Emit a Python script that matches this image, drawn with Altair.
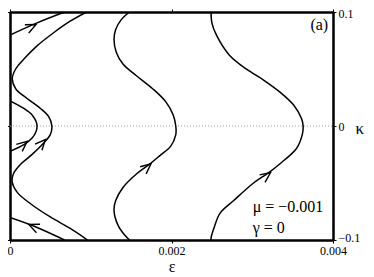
import altair as alt
import pandas as pd

FONT = "'Liberation Serif', 'Times New Roman', 'DejaVu Serif', serif"

# ---- trajectories (epsilon, kappa) ----
A_eps = [0.00249, 0.00250, 0.00256, 0.00272, 0.00293, 0.00314, 0.00334, 0.00351, 0.00361, 0.00363,
         0.00362, 0.00355, 0.00334, 0.00320, 0.00302, 0.00277, 0.00260, 0.00253, 0.00249, 0.00249]
A_kap = [0.1, 0.0905, 0.0792, 0.0619, 0.0498, 0.0403, 0.0299, 0.0186, 0.0065, 0.0,
         -0.0074, -0.0195, -0.0333, -0.0411, -0.0498, -0.0654, -0.0766, -0.0887, -0.0983, -0.1]

B_eps = [0.001481, 0.001378, 0.001309, 0.001288, 0.001317, 0.001399, 0.001562, 0.001767, 0.001930, 0.002021, 0.002053,
         0.002053, 0.001991, 0.001849, 0.001726, 0.001562, 0.001399, 0.001309, 0.001288, 0.001337, 0.001420, 0.001481]
B_kap = [0.1, 0.0933, 0.0847, 0.0760, 0.0645, 0.0544, 0.0443, 0.0327, 0.0212, 0.0097, 0.0,
         -0.0076, -0.0177, -0.0264, -0.0336, -0.0423, -0.0539, -0.0654, -0.0740, -0.0870, -0.0957, -0.1]

C_eps = [0.000948, 0.000745, 0.000540, 0.000335, 0.000172, 0.000070, 0.000028, 0.000070, 0.000212, 0.000377, 0.000479, 0.000519,
         0.000499, 0.000417, 0.000274, 0.000131, 0.000040, 0.000028, 0.000090, 0.000254, 0.000499, 0.000745, 0.000960]
C_kap = [0.1, 0.0919, 0.0818, 0.0703, 0.0587, 0.0500, 0.0414, 0.0327, 0.0241, 0.0154, 0.0082, 0.0,
         -0.0076, -0.0149, -0.0249, -0.0336, -0.0423, -0.0495, -0.0582, -0.0682, -0.0798, -0.0899, -0.1]

D_eps = [0.0, 0.000172, 0.000274, 0.000323, 0.000335, 0.000323, 0.000274, 0.000172, 0.0]
D_kap = [0.0221, 0.0154, 0.0097, 0.0039, 0.0, -0.0048, -0.0106, -0.0163, -0.0221]

E_eps = [0.0, 0.000335, 0.000675]
E_kap = [0.0798, 0.0905, 0.1]

F_eps = [0.000675, 0.000335, 0.0]
F_kap = [-0.1, -0.089, -0.0803]

curves = {"A": (A_eps, A_kap), "B": (B_eps, B_kap), "C": (C_eps, C_kap),
          "D": (D_eps, D_kap), "E": (E_eps, E_kap), "F": (F_eps, F_kap)}

# ---- arrow heads (position on curve, direction in degrees) ----
arrow_eps = [0.003227, 0.001746, 0.000438, 0.000212, 0.000323, 0.000233]
arrow_kap = [-0.0409, -0.0331, -0.0119, -0.0134, 0.0890, -0.0864]
arrow_ang = [324, 320, 312, 320, 335, 203]

# ---- axes ----
x_ticks = [0, 0.002, 0.004]
y_ticks = [-0.1, 0, 0.1]
x_domain = [0, 0.004]
y_domain = [-0.1, 0.1]

# ---- annotations ----
ann_right_text = ["(a)"]
ann_right_eps = [0.00394]
ann_right_kap = [0.0887]
ann_left_text = ["μ = −0.001", "γ = 0"]
ann_left_eps = [0.003006, 0.003006]
ann_left_kap = [-0.0714, -0.0896]

rows = []
for name, (es, ks) in curves.items():
    for i, (e, k) in enumerate(zip(es, ks)):
        rows.append({"curve": name, "idx": i, "eps": e, "kap": k})
df = pd.DataFrame(rows)

arrows = pd.DataFrame({"eps": arrow_eps, "kap": arrow_kap, "ang": arrow_ang})
zero_line = pd.DataFrame({"e1": [x_domain[0]], "e2": [x_domain[1]], "k": [0.0]})
ann_r = pd.DataFrame({"t": ann_right_text, "eps": ann_right_eps, "kap": ann_right_kap})
ann_l = pd.DataFrame({"t": ann_left_text, "eps": ann_left_eps, "kap": ann_left_kap})

xs = alt.Scale(domain=x_domain, nice=False, zero=False)
ys = alt.Scale(domain=y_domain, nice=False, zero=False)

common_axis = dict(domainColor="black", domainWidth=2.5, tickColor="black", tickWidth=1,
                   tickSize=3, grid=False, labelFont=FONT, labelColor="black",
                   titleFont=FONT, titleColor="black", titleFontWeight="normal")

x_bottom = alt.Axis(orient="bottom", values=x_ticks, title="ε", titleFontSize=16,
                    labelFontSize=12, labelFlush=False, labelPadding=2, titlePadding=2,
                    labelExpr="datum.value == 0 ? '0' : format(datum.value, '.3f')",
                    **common_axis)
y_right = alt.Axis(orient="right", values=y_ticks, title="κ", titleFontSize=17, titleAngle=0,
                   titleAlign="left", titleBaseline="middle", titleX=22, titleY=116,
                   labelFontSize=12, labelPadding=2, labelFlush=True, labelFlushOffset=4,
                   labelOverlap=False,
                   labelExpr="datum.value == 0 ? '0' : (datum.value < 0 ? '−0.1' : '0.1')",
                   **common_axis)
x_top = alt.Axis(orient="top", values=x_ticks, labels=False, title=None, **common_axis)
y_left = alt.Axis(orient="left", values=y_ticks, labels=False, title=None, **common_axis)

lines = alt.Chart(df).mark_line(color="black", strokeWidth=1.5, interpolate="catmull-rom", clip=True).encode(
    x=alt.X("eps:Q", scale=xs, axis=x_bottom),
    y=alt.Y("kap:Q", scale=ys, axis=y_right),
    detail="curve:N",
    order="idx:Q",
)

heads = alt.Chart(arrows).mark_point(
    shape="M -1 -0.45 L 0 0 L -1 0.45", filled=False, color="black", strokeWidth=1.4, size=420,
    opacity=1,
).encode(
    x=alt.X("eps:Q", scale=xs, axis=x_top),
    y=alt.Y("kap:Q", scale=ys, axis=y_left),
    angle=alt.Angle("ang:Q", scale=None),
)

zero = alt.Chart(zero_line).mark_rule(color="#9a9a9a", strokeWidth=1, strokeDash=[1, 2]).encode(
    x=alt.X("e1:Q", scale=xs, axis=None),
    x2="e2:Q",
    y=alt.Y("k:Q", scale=ys, axis=None),
)

txt_r = alt.Chart(ann_r).mark_text(font=FONT, fontSize=16, align="right", baseline="middle", color="black").encode(
    x=alt.X("eps:Q", scale=xs, axis=None),
    y=alt.Y("kap:Q", scale=ys, axis=None),
    text="t:N",
)
txt_l = alt.Chart(ann_l).mark_text(font=FONT, fontSize=16, align="left", baseline="middle", color="black").encode(
    x=alt.X("eps:Q", scale=xs, axis=None),
    y=alt.Y("kap:Q", scale=ys, axis=None),
    text="t:N",
)

chart = alt.layer(zero, lines, heads, txt_r, txt_l).resolve_axis(
    x="independent", y="independent"
).properties(
    width=323, height=228,
    autosize=alt.AutoSizeParams(type="none"),
    padding={"left": 2, "top": 4, "right": 33, "bottom": 37},
).configure_view(stroke=None)

chart.save("out.html", embed_options={"renderer": "svg", "actions": False})
